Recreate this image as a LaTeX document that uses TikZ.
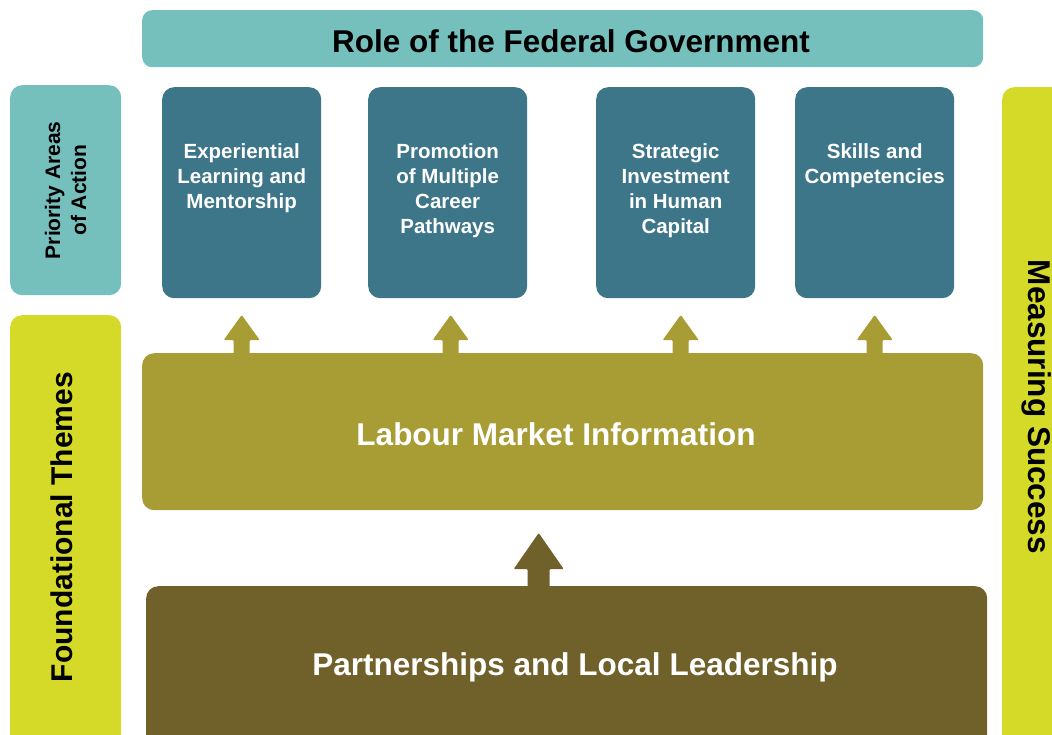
\documentclass[tikz,border=0pt]{standalone}
\usepackage{fontspec}
\setmainfont{Liberation Sans}
\usetikzlibrary{positioning,calc}
\definecolor{tealbar}{HTML}{75BFBD}
\definecolor{areablue}{HTML}{3D7589}
\definecolor{limebar}{HTML}{D4DA27}
\definecolor{lmiolive}{HTML}{A89D35}
\definecolor{plldark}{HTML}{6F6129}
\begin{document}
\begin{tikzpicture}
  [x=1pt,y=-1pt,
   panel/.style={rounded corners=12pt,inner sep=0pt,anchor=north west},
   areabox/.style={panel,fill=areablue,minimum width=159pt,minimum height=211pt},
   areatxt/.style={white,font=\bfseries\fontsize{20.5}{25}\selectfont,align=center,anchor=north,inner sep=0pt},
   sidetxt/.style={font=\bfseries\fontsize{30}{36}\selectfont,inner sep=0pt},
   bigtxt/.style={white,font=\bfseries\fontsize{31.5}{36}\selectfont,inner sep=0pt},
   pics/smallup/.style={code={
     \fill[lmiolive,rounded corners=1pt] (-8,1) -- (-8,-13) -- (-18,-13) -- (0,-38)
       -- (18,-13) -- (8,-13) -- (8,1) -- cycle;}},
   pics/bigup/.style={code={
     \fill[plldark,rounded corners=1pt] (-11,1) -- (-11,-17) -- (-25,-17) -- (0,-53)
       -- (25,-17) -- (11,-17) -- (11,1) -- cycle;}}]
  \clip (0,0) rectangle (1052,734);

  % headline bar
  \node[panel,fill=tealbar,rounded corners=10pt,minimum width=841pt,minimum height=57pt] (fed) at (142,10) {};
  \node[font=\bfseries\fontsize{31.5}{36}\selectfont,inner sep=0pt] (fedtxt) at (571,41) {Role of the Federal Government};

  % side bars
  \node[panel,fill=tealbar,minimum width=111pt,minimum height=210pt] (prio) at (10,85) {};
  \node[font=\bfseries\fontsize{21}{26}\selectfont,align=center,rotate=90,inner sep=0pt] (priotxt) at (prio.center) {Priority Areas\\of Action};
  \node[panel,fill=limebar,minimum width=111pt,minimum height=440pt] (found) at (10,315) {};
  \node[sidetxt,rotate=90] (foundtxt) at (62,527) {Foundational Themes};
  \node[panel,fill=limebar,minimum width=80pt,minimum height=667pt] (meas) at (1002,87) {};
  \node[sidetxt,font=\bfseries\fontsize{31.5}{36}\selectfont,rotate=-90] (meastxt) at (1037,407) {Measuring Success};

  % priority areas
  \node[areabox] (b1) at (162,87) {};
  \node[areabox] (b2) at (368,87) {};
  \node[areabox] (b3) at (596,87) {};
  \node[areabox] (b4) at (795,87) {};
  \node[areatxt,below=56pt of b1.north] (t1) {Experiential\\Learning and\\Mentorship};
  \node[areatxt,below=56pt of b2.north] (t2) {Promotion\\of Multiple\\Career\\Pathways};
  \node[areatxt,below=56pt of b3.north] (t3) {Strategic\\Investment\\in Human\\Capital};
  \node[areatxt,below=56pt of b4.north] (t4) {Skills and\\Competencies};

  % foundational themes
  \node[panel,fill=lmiolive,minimum width=841pt,minimum height=157pt] (lmi) at (142,353) {};
  \node[bigtxt] (lmitxt) at (556,434) {Labour Market Information};
  \node[panel,fill=plldark,minimum width=841pt,minimum height=170pt] (pll) at (146,586) {};
  \node[bigtxt] (plltxt) at (575,667) {Partnerships and Local Leadership};

  % arrows
  \pic at (b1.south |- lmi.north) {smallup};
  \pic at ($(b2.south |- lmi.north)+(3,0)$) {smallup};
  \pic at ($(b3.south |- lmi.north)+(5,0)$) {smallup};
  \pic at (b4.south |- lmi.north) {smallup};
  \pic at ($(pll.north)+(-28,0)$) {bigup};
\end{tikzpicture}
\end{document}
